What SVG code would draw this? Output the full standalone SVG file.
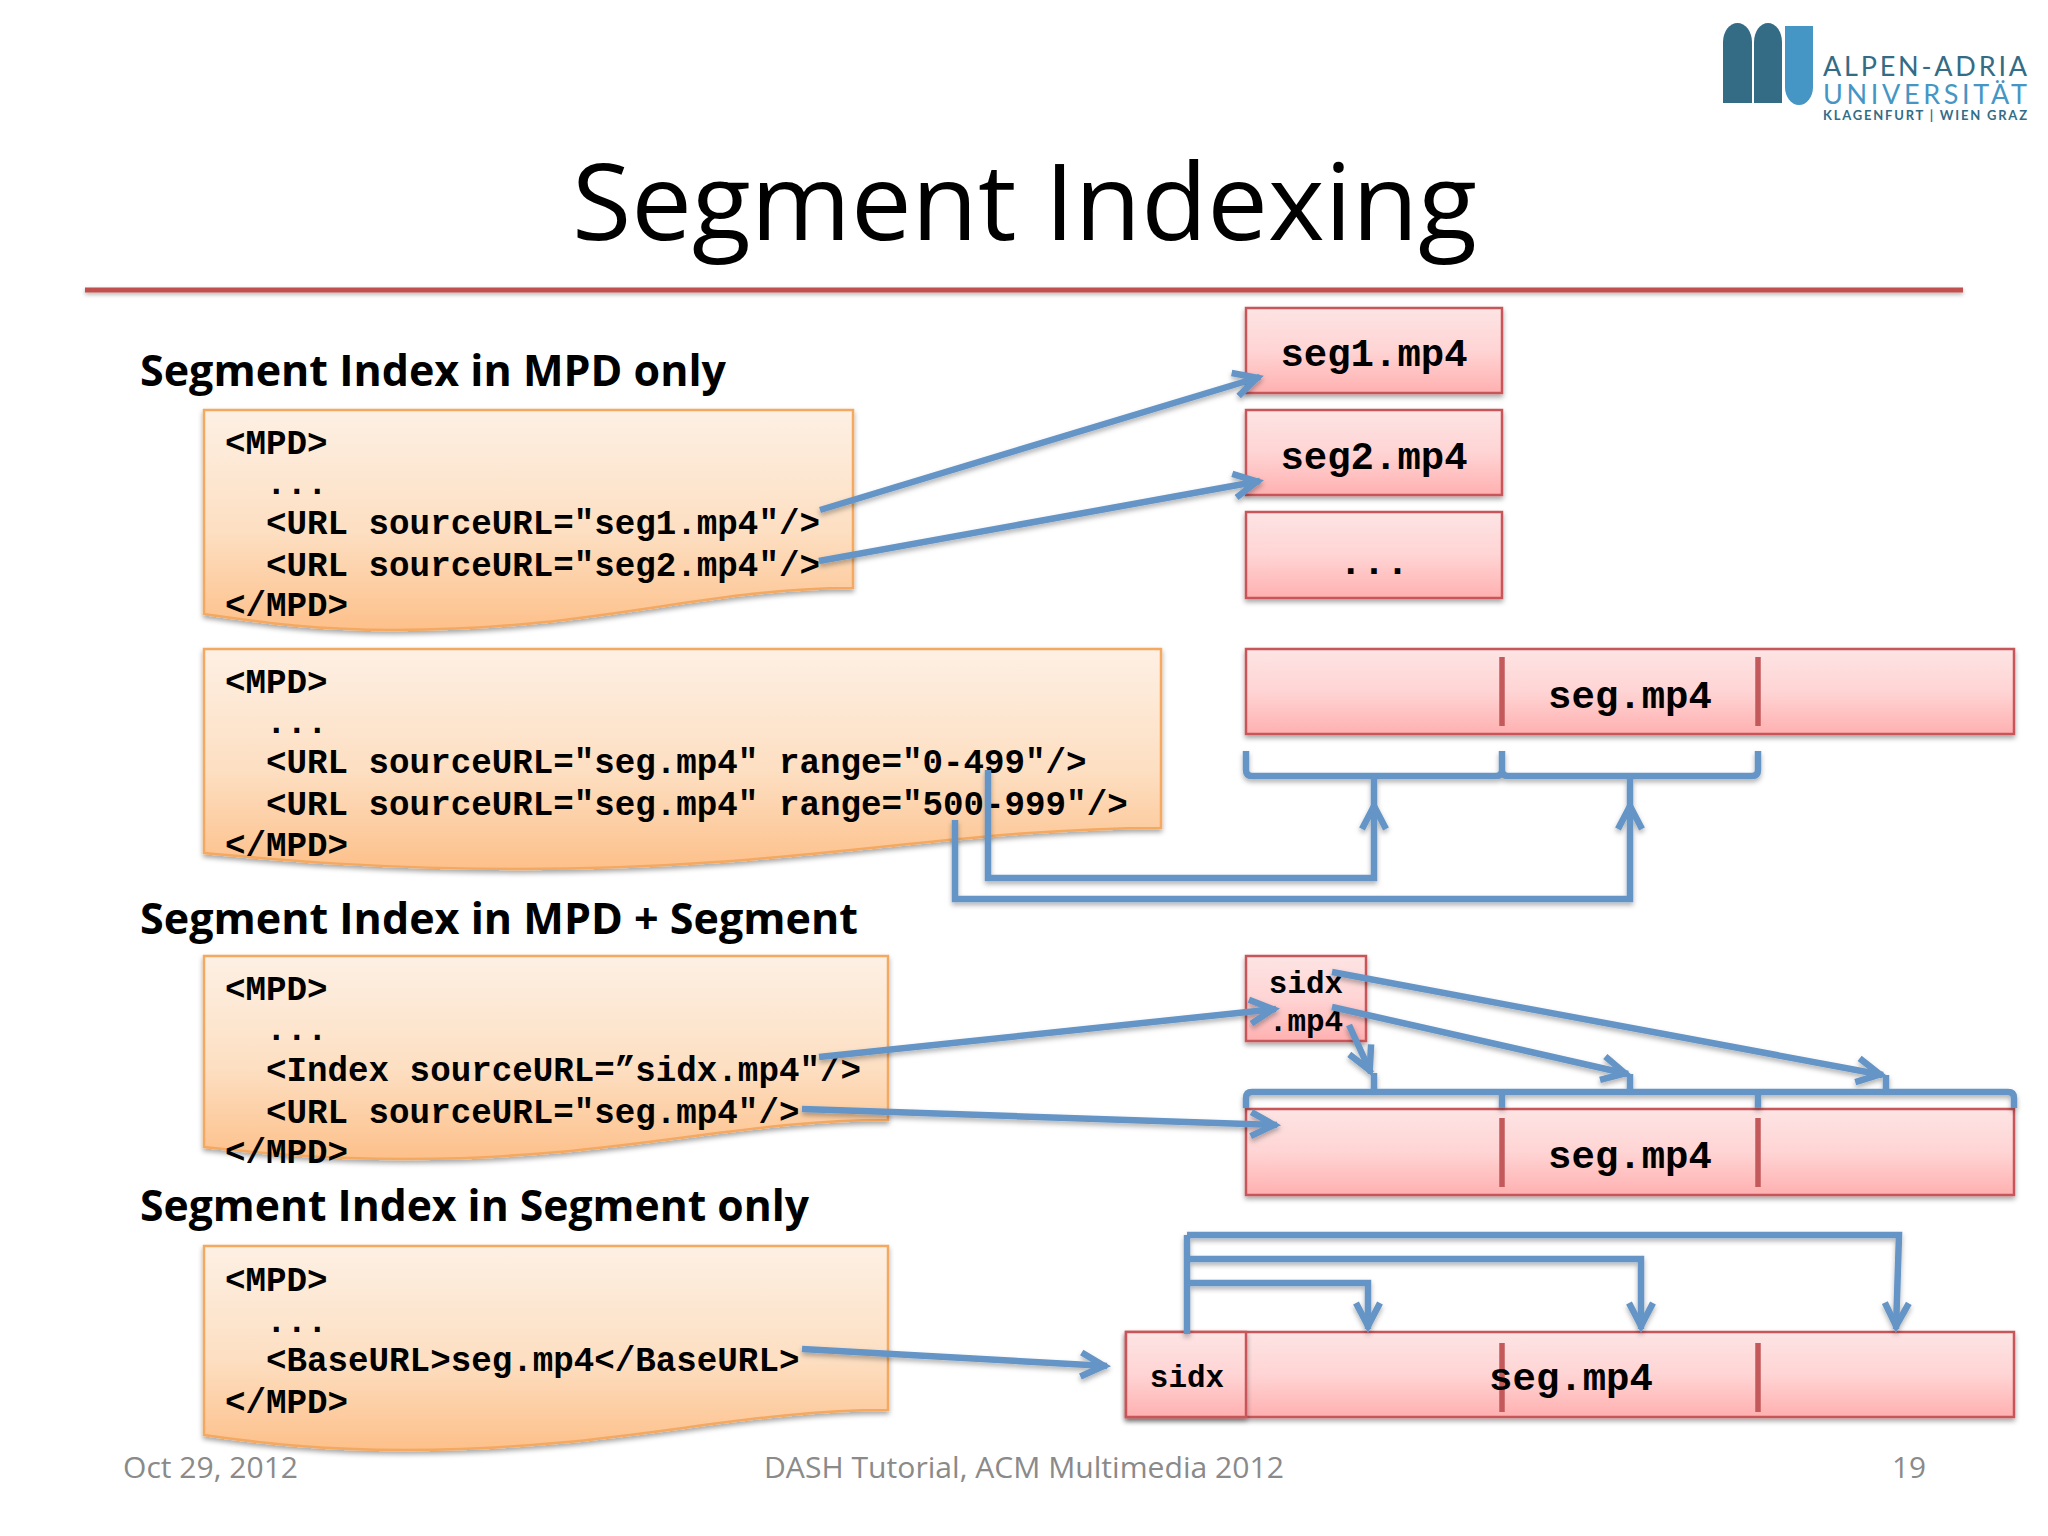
<svg xmlns="http://www.w3.org/2000/svg" width="2048" height="1536" viewBox="0 0 2048 1536">
<style>
.title{font-family:"Open Sans","Noto Sans",sans-serif;font-size:107px;fill:#000}
.head{font-family:"Open Sans","Noto Sans",sans-serif;font-weight:700;font-size:43px;fill:#000}
.foot{font-family:"Open Sans","Noto Sans",sans-serif;font-size:30px;fill:#8a8a8a}
.code{font-family:"Liberation Mono",monospace;font-weight:700;font-size:34.2px;fill:#000;white-space:pre}
.seg{font-family:"Liberation Mono",monospace;font-weight:700;font-size:39px;fill:#000;text-anchor:middle}
.small{font-family:"Liberation Mono",monospace;font-weight:700;font-size:31px;fill:#000;text-anchor:middle}
.doc{fill:url(#orange);stroke:#f4a860;stroke-width:2.5;filter:url(#shadow)}
.box{fill:url(#red);stroke:#c8555a;stroke-width:2.5;filter:url(#shadow)}
.sep{stroke:#c4595c;stroke-width:5.5;fill:none}
.conn{fill:none;stroke:#6595c6;stroke-width:6.5;stroke-linejoin:miter}
.arrow{marker-end:url(#open)}
.logo1{font-family:"Lato",sans-serif;font-size:27px;fill:#346c86}
.logo2{font-family:"Lato",sans-serif;font-size:27px;fill:#4596c4}
.logo3{font-family:"Lato",sans-serif;font-weight:700;font-size:13px;fill:#346c86}
</style>
<defs>
<linearGradient id="orange" x1="0" y1="0" x2="0" y2="1"><stop offset="0" stop-color="#fdf0e4"/><stop offset="0.55" stop-color="#fddfc2"/><stop offset="1" stop-color="#fdc08a"/></linearGradient>
<linearGradient id="red" x1="0" y1="0" x2="0" y2="1"><stop offset="0" stop-color="#fde4e4"/><stop offset="0.5" stop-color="#ffd4d4"/><stop offset="1" stop-color="#ffb0b0"/></linearGradient>
<filter id="shadow" x="-5%" y="-10%" width="110%" height="125%"><feDropShadow dx="0" dy="3" stdDeviation="2.5" flood-color="#000" flood-opacity="0.35"/></filter>
<filter id="lineshadow" x="-5%" y="-5%" width="110%" height="110%"><feDropShadow dx="0" dy="3" stdDeviation="2.5" flood-color="#000" flood-opacity="0.3"/></filter>
<filter id="ruleshadow" filterUnits="userSpaceOnUse" x="70" y="275" width="1910" height="30"><feDropShadow dx="0" dy="2" stdDeviation="2" flood-color="#000" flood-opacity="0.3"/></filter>
<marker id="open" markerUnits="userSpaceOnUse" markerWidth="44" markerHeight="40" refX="35" refY="20" orient="auto" overflow="visible"><path d="M9,8 L32,20 L9,32" fill="none" stroke="#6595c6" stroke-width="6.500" stroke-linejoin="miter"/></marker>
</defs>
<rect width="2048" height="1536" fill="#fff"/>

<g id="logo">
<path d="M1723,103 V42 A14.500,19 0 0 1 1752,42 V103 Z" fill="#346c86"/>
<path d="M1754,103 V42 A14,19 0 0 1 1782,42 V103 Z" fill="#346c86"/>
<path d="M1785,26 H1813 V87 A14,18 0 0 1 1785,87 Z" fill="#4596c4"/>
<text class="logo1" x="1823" y="76" textLength="204" lengthAdjust="spacing">ALPEN-ADRIA</text>
<text class="logo2" x="1823" y="104" textLength="204" lengthAdjust="spacing">UNIVERSITÄT</text>
<text class="logo3" x="1823" y="120" textLength="204" lengthAdjust="spacing">KLAGENFURT | WIEN GRAZ</text>
</g>

<g id="title">
<text class="title" x="572" y="240" textLength="905" lengthAdjust="spacingAndGlyphs">Segment Indexing</text>
<rect x="85" y="287.500" width="1878" height="5" fill="#c0504d" filter="url(#ruleshadow)"/>
</g>

<g id="headings">
<text class="head" x="140" y="386" textLength="586" lengthAdjust="spacingAndGlyphs">Segment Index in MPD only</text>
<text class="head" x="140" y="934" textLength="718" lengthAdjust="spacingAndGlyphs">Segment Index in MPD + Segment</text>
<text class="head" x="140" y="1221" textLength="669" lengthAdjust="spacingAndGlyphs">Segment Index in Segment only</text>
</g>

<g id="mpd1">
<path class="doc" d="M204,410 H853 V588 C700,588 600,630 394,630 C310,630 260,622 204,614 Z"/>
<text class="code" x="225" y="454">&lt;MPD&gt;</text>
<text class="code" x="266" y="494">...</text>
<text class="code" x="266" y="534">&lt;URL sourceURL="seg1.mp4"/&gt;</text>
<text class="code" x="266" y="576">&lt;URL sourceURL="seg2.mp4"/&gt;</text>
<text class="code" x="225" y="616">&lt;/MPD&gt;</text>
</g>
<g id="mpd2">
<path class="doc" d="M204,649 H1161 V828 C950,828 800,869 520,869 C380,869 280,860 204,853 Z"/>
<text class="code" x="225" y="693">&lt;MPD&gt;</text>
<text class="code" x="266" y="733">...</text>
<text class="code" x="266" y="773">&lt;URL sourceURL="seg.mp4" range="0-499"/&gt;</text>
<text class="code" x="266" y="815">&lt;URL sourceURL="seg.mp4" range="500-999"/&gt;</text>
<text class="code" x="225" y="856">&lt;/MPD&gt;</text>
</g>
<g id="mpd3">
<path class="doc" d="M204,956 H888 V1120 C730,1120 620,1159 404,1159 C320,1159 260,1153 204,1147 Z"/>
<text class="code" x="225" y="1000">&lt;MPD&gt;</text>
<text class="code" x="266" y="1040">...</text>
<text class="code" x="266" y="1081">&lt;Index sourceURL=”sidx.mp4"/&gt;</text>
<text class="code" x="266" y="1123">&lt;URL sourceURL="seg.mp4"/&gt;</text>
<text class="code" x="225" y="1163">&lt;/MPD&gt;</text>
</g>
<g id="mpd4">
<path class="doc" d="M204,1246 H888 V1410 C730,1410 620,1450 404,1450 C320,1450 260,1443 204,1435 Z"/>
<text class="code" x="225" y="1291">&lt;MPD&gt;</text>
<text class="code" x="266" y="1332">...</text>
<text class="code" x="266" y="1371">&lt;BaseURL&gt;seg.mp4&lt;/BaseURL&gt;</text>
<text class="code" x="225" y="1413">&lt;/MPD&gt;</text>
</g>

<g id="seg1"><rect class="box" x="1246" y="308" width="256" height="85"/><text class="seg" x="1374" y="366">seg1.mp4</text></g>
<g id="seg2"><rect class="box" x="1246" y="410" width="256" height="85"/><text class="seg" x="1374" y="469">seg2.mp4</text></g>
<g id="segdots"><rect class="box" x="1246" y="512" width="256" height="86"/><text class="seg" x="1374" y="574">...</text></g>

<g id="segA"><rect class="box" x="1246" y="649" width="768" height="85"/><path class="sep" d="M1502,657 V726 M1758,657 V726"/><text class="seg" x="1630" y="708">seg.mp4</text></g>
<g id="sidxfile"><rect class="box" x="1246" y="956" width="120" height="85"/><text class="small" x="1306" y="993">sidx</text><text class="small" x="1306" y="1031">.mp4</text></g>
<g id="segB"><rect class="box" x="1246" y="1109" width="768" height="86"/><path class="sep" d="M1502,1118 V1187 M1758,1118 V1187"/><text class="seg" x="1630" y="1168">seg.mp4</text></g>
<g id="segC"><rect class="box" x="1126" y="1332" width="888" height="85"/><path class="sep" d="M1502,1343 V1412 M1758,1343 V1412"/><text class="seg" x="1571" y="1390">seg.mp4</text></g>
<g id="sidxbox"><rect class="box" x="1126" y="1332" width="120" height="85"/><text class="small" x="1187" y="1387">sidx</text></g>

<g id="connectors" filter="url(#lineshadow)">
<path class="conn arrow" d="M820,510 L1260,377"/>
<path class="conn arrow" d="M819,561 L1260,481"/>
<path class="conn" d="M1246,751 V770 Q1246,776 1252,776 H1496 Q1502,776 1502,770 V751 M1502,770 Q1502,776 1508,776 H1752 Q1758,776 1758,770 V751"/>
<path class="conn" d="M1374,776 V803 M1630,776 V803"/>
<path class="conn arrow" d="M988,770 V878 H1374 V803"/>
<path class="conn arrow" d="M955,820 V899 H1630 V803"/>
<path class="conn arrow" d="M819,1057 L1276,1009"/>
<path class="conn arrow" d="M802,1109 L1277,1125"/>
<path class="conn arrow" d="M1332,972 L1883,1075"/>
<path class="conn arrow" d="M1332,1007 L1628,1074"/>
<path class="conn arrow" d="M1349,1025 L1371,1073"/>
<path class="conn" d="M1246,1108 V1098 Q1246,1092 1252,1092 H2008 Q2014,1092 2014,1098 V1108 M1502,1108 V1092 M1758,1108 V1092"/>
<path class="conn" d="M1374,1092 V1073 M1630,1092 V1074 M1886,1092 V1075"/>
<path class="conn" d="M1187,1334 V1235"/>
<path class="conn arrow" d="M1187,1235 H1899 L1896,1329"/>
<path class="conn arrow" d="M1187,1259 H1641 V1329"/>
<path class="conn arrow" d="M1187,1283 H1368 V1329"/>
<path class="conn arrow" d="M802,1349 L1107,1366"/>
</g>

<g id="footer">
<text class="foot" x="123" y="1478" textLength="175" lengthAdjust="spacingAndGlyphs">Oct 29, 2012</text>
<text class="foot" x="764" y="1478" textLength="520" lengthAdjust="spacingAndGlyphs">DASH Tutorial, ACM Multimedia 2012</text>
<text class="foot" x="1892" y="1478" textLength="34" lengthAdjust="spacingAndGlyphs">19</text>
</g>
</svg>
